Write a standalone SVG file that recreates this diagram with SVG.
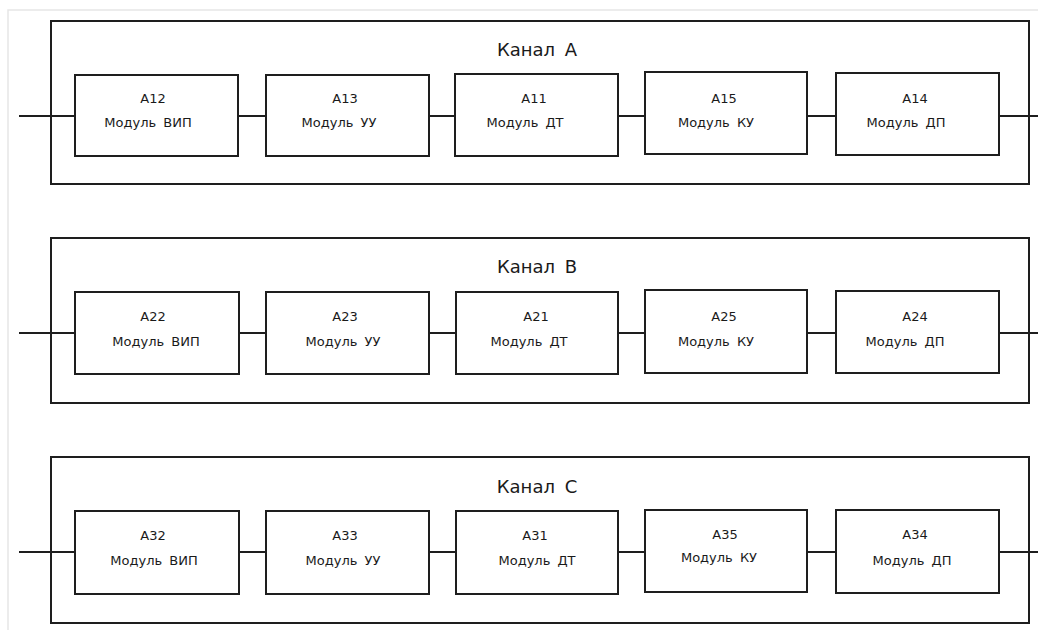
<svg xmlns="http://www.w3.org/2000/svg" width="1038" height="630" viewBox="0 0 1038 630">
<style>
.frame{fill:none;stroke:#1e1e1e;stroke-width:2}
.mod{fill:#fff;stroke:#1e1e1e;stroke-width:2}
.wire{fill:none;stroke:#1e1e1e;stroke-width:2}
.title{font-family:"DejaVu Sans","Liberation Sans",sans-serif;font-size:18px;fill:#1a1a1a;text-anchor:middle;word-spacing:4px}
.id{font-family:"DejaVu Sans","Liberation Sans",sans-serif;font-size:13px;fill:#1a1a1a;text-anchor:middle}
.name{font-family:"DejaVu Sans","Liberation Sans",sans-serif;font-size:13px;fill:#1a1a1a;text-anchor:middle;word-spacing:3px}
</style>
<rect width="1038" height="630" fill="#fff"/>
<path d="M8 630 V10 H1038" fill="none" stroke="#e6e6e6" stroke-width="1.5"/>

<g id="connectors">
  <path class="wire" d="M19 116 H75 M238 116 H266 M429 116 H455 M618 116 H645 M807 116 H836 M999 116 H1038"/>
  <path class="wire" d="M19 333 H75 M239 333 H266 M429 333 H456 M618 333 H645 M807 333 H836 M999 333 H1038"/>
  <path class="wire" d="M19 552 H75 M239 552 H266 M429 552 H456 M618 552 H645 M807 552 H836 M999 552 H1038"/>
</g>

<g id="channel-A">
  <rect class="frame" x="51" y="21" width="978" height="163"/>
  <text class="title" x="537" y="56">Канал A</text>
</g>
<g id="A12"><rect class="mod" x="75" y="75" width="163" height="81"/><text class="id" x="153" y="103">A12</text><text class="name" x="148" y="127">Модуль ВИП</text></g>
<g id="A13"><rect class="mod" x="266" y="75" width="163" height="81"/><text class="id" x="345" y="103">A13</text><text class="name" x="339" y="127">Модуль УУ</text></g>
<g id="A11"><rect class="mod" x="455" y="74" width="163" height="82"/><text class="id" x="534" y="103">A11</text><text class="name" x="525" y="127">Модуль ДТ</text></g>
<g id="A15"><rect class="mod" x="645" y="72" width="162" height="82"/><text class="id" x="724" y="103">A15</text><text class="name" x="716" y="127">Модуль КУ</text></g>
<g id="A14"><rect class="mod" x="836" y="73" width="163" height="82"/><text class="id" x="915" y="103">A14</text><text class="name" x="906" y="127">Модуль ДП</text></g>

<g id="channel-B">
  <rect class="frame" x="51" y="238" width="978" height="165"/>
  <text class="title" x="537" y="273">Канал B</text>
</g>
<g id="A22"><rect class="mod" x="75" y="292" width="164" height="82"/><text class="id" x="153" y="321">A22</text><text class="name" x="156" y="346">Модуль ВИП</text></g>
<g id="A23"><rect class="mod" x="266" y="292" width="163" height="82"/><text class="id" x="345" y="321">A23</text><text class="name" x="343" y="346">Модуль УУ</text></g>
<g id="A21"><rect class="mod" x="456" y="292" width="162" height="82"/><text class="id" x="536" y="321">A21</text><text class="name" x="529" y="346">Модуль ДТ</text></g>
<g id="A25"><rect class="mod" x="645" y="290" width="162" height="83"/><text class="id" x="724" y="321">A25</text><text class="name" x="716" y="346">Модуль КУ</text></g>
<g id="A24"><rect class="mod" x="836" y="291" width="163" height="82"/><text class="id" x="915" y="321">A24</text><text class="name" x="905" y="346">Модуль ДП</text></g>

<g id="channel-C">
  <rect class="frame" x="51" y="457" width="978" height="166"/>
  <text class="title" x="537" y="493">Канал C</text>
</g>
<g id="A32"><rect class="mod" x="75" y="511" width="164" height="83"/><text class="id" x="153" y="540">A32</text><text class="name" x="154" y="565">Модуль ВИП</text></g>
<g id="A33"><rect class="mod" x="266" y="511" width="163" height="83"/><text class="id" x="345" y="540">A33</text><text class="name" x="343" y="565">Модуль УУ</text></g>
<g id="A31"><rect class="mod" x="456" y="511" width="162" height="83"/><text class="id" x="535" y="540">A31</text><text class="name" x="537" y="565">Модуль ДТ</text></g>
<g id="A35"><rect class="mod" x="645" y="510" width="162" height="82"/><text class="id" x="725" y="539">A35</text><text class="name" x="719" y="562">Модуль КУ</text></g>
<g id="A34"><rect class="mod" x="836" y="510" width="163" height="83"/><text class="id" x="915" y="539">A34</text><text class="name" x="912" y="565">Модуль ДП</text></g>
</svg>
